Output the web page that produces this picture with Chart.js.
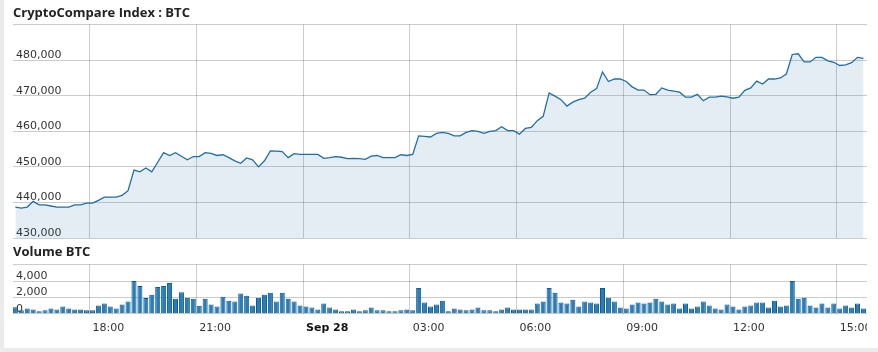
<!DOCTYPE html>
<html>
<head>
<meta charset="utf-8">
<script src="https://cdn.jsdelivr.net/npm/chart.js@4.4.0/dist/chart.umd.min.js"></script>
<style>
  html, body { margin: 0; padding: 0; background: #ebebeb; }
  #wrap { position: absolute; left: 4px; top: 0; width: 874px; height: 348px; background: #fff; }
  canvas { position: absolute; left: 0; }
  #price { top: 0; }
  #volume { top: 240px; }
</style>
</head>
<body>
<div id="wrap"></div>
<canvas id="price" width="867" height="242"></canvas>
<canvas id="volume" width="867" height="108"></canvas>
<script>
// BTC index, one sample every 10 minutes from Sep 27 15:55
const price = [
  438700, 438400, 438700, 440300, 439300, 439300, 439000, 438700, 438700, 438700,
  439300, 439300, 439800, 439800, 440600, 441500, 441500, 441500, 442000, 443300,
  449100, 448600, 449700, 448600, 451300, 454000, 453200, 454000, 453000, 452000,
  452900, 452900, 454000, 453800, 453200, 453400, 452600, 451700, 451000, 452500,
  452000, 450000, 451700, 454500, 454400, 454300, 452600, 453700, 453500, 453500,
  453500, 453500, 452400, 452600, 452900, 452700, 452300, 452400, 452300, 452100,
  453000, 453200, 452600, 452600, 452600, 453400, 453200, 453500, 458700, 458600,
  458400, 459400, 459700, 459400, 458700, 458700, 459700, 460200, 460000, 459400,
  460000, 460200, 461300, 460200, 460200, 459200, 460800, 461100, 463000, 464200,
  470800, 469900, 468900, 467100, 468200, 468900, 469300, 471000, 472000, 476700,
  474000, 474700, 474700, 474000, 472500, 471600, 471600, 470300, 470400, 472200,
  471600, 471300, 471000, 469600, 469600, 470400, 468600, 469600, 469600, 469900,
  469700, 469300, 469600, 471500, 472200, 474100, 473300, 474700, 474700, 475000,
  476100, 481600, 481800, 479500, 479500, 480800, 480800, 479800, 479400, 478500,
  478700, 479300, 480800, 480500
];

const volume = [
  800, 420, 650, 530, 300, 420, 650, 530, 890, 650,
  530, 530, 420, 420, 1010, 1250, 890, 650, 1130, 1490,
  3990, 3390, 1930, 2320, 3270, 3390, 3750, 1840, 2640, 1960,
  1840, 970, 1840, 1130, 890, 2080, 1600, 1490, 2480, 2200,
  1010, 1960, 2320, 2560, 1490, 2560, 1840, 1490, 1010, 890,
  770, 530, 1250, 770, 530, 300, 300, 530, 300, 420,
  770, 420, 420, 300, 300, 420, 530, 420, 3150, 1370,
  890, 1130, 1600, 300, 650, 530, 420, 530, 770, 420,
  420, 300, 530, 770, 530, 530, 530, 530, 1250, 1490,
  3150, 2560, 1370, 1250, 1720, 890, 1490, 1370, 1250, 3150,
  1960, 1490, 770, 650, 1130, 1370, 1250, 1370, 1840, 1490,
  1130, 1250, 650, 1250, 650, 890, 1490, 1010, 650, 530,
  1130, 890, 530, 890, 1010, 1370, 1370, 770, 1600, 890,
  1010, 3990, 1840, 1960, 1010, 770, 1250, 770, 1250, 650,
  1010, 770, 1250, 650
];

// hours since Sep 27 00:00
const tickHours = [18, 21, 24, 27, 30, 33, 36, 39];
const tickLabels = ['18:00', '21:00', 'Sep 28', '03:00', '06:00', '09:00', '12:00', '15:00'];

const startHour = 15 + 55 / 60;
const times = price.map((_, i) => startHour + i / 6);

const gridColor = 'rgba(0,0,0,0.2)';
const tickFont = { family: 'DejaVu Sans', size: 11 };
const titleFont = { family: 'Open Sans', size: 13, weight: 'bold' };

function noPad(scale) {
  scale.paddingLeft = 0;
  scale.paddingRight = 0;
  scale.paddingTop = 0;
  scale.paddingBottom = 0;
}

function flatY(scale) {
  noPad(scale);
  scale.width = 0;
}

function hourTicks(scale) {
  scale.ticks = tickHours.map(v => ({ value: v }));
}

function xScale(ticks) {
  return {
    type: 'linear',
    min: 15.85,
    max: 39.85,
    offset: false,
    afterBuildTicks: hourTicks,
    afterFit: noPad,
    grid: { color: gridColor, drawTicks: false, offset: false },
    border: { display: false },
    ticks
  };
}

new Chart(document.getElementById('price'), {
  type: 'line',
  data: {
    datasets: [{
      data: times.map((t, i) => ({ x: t, y: price[i] })),
      borderColor: '#1f6fa8',
      borderWidth: 1.3,
      backgroundColor: 'rgba(31,111,168,0.12)',
      fill: 'start',
      pointRadius: 0,
      tension: 0
    }]
  },
  options: {
    responsive: false,
    animation: false,
    layout: { padding: { left: 13, right: 0, top: 0, bottom: 4 } },
    plugins: {
      legend: { display: false },
      tooltip: { enabled: false },
      title: {
        display: true,
        text: 'CryptoCompare Index : BTC',
        align: 'start',
        color: '#222',
        font: titleFont,
        padding: { top: 5, bottom: 4 }
      }
    },
    scales: {
      x: xScale({ display: false }),
      y: {
        min: 430000,
        max: 490000,
        afterFit: flatY,
        ticks: {
          stepSize: 10000,
          autoSkip: false,
          mirror: true,
          padding: 3,
          labelOffset: -5,
          color: '#333',
          font: tickFont,
          callback: v => v === 490000 ? '' : v.toLocaleString('en-US')
        },
        grid: { color: gridColor, drawTicks: false },
        border: { display: false }
      }
    }
  }
});

new Chart(document.getElementById('volume'), {
  type: 'bar',
  data: {
    datasets: [{
      data: times.map((t, i) => ({ x: t, y: volume[i] })),
      backgroundColor: '#2b7db6',
      borderColor: '#0c5a93',
      borderWidth: 1,
      barPercentage: 0.85,
      categoryPercentage: 1,
      yAxisID: 'y'
    }]
  },
  options: {
    responsive: false,
    animation: false,
    layout: { padding: { left: 13, right: 0, top: 0, bottom: 5 } },
    plugins: {
      legend: { display: false },
      tooltip: { enabled: false },
      title: {
        display: true,
        text: 'Volume BTC',
        align: 'start',
        color: '#222',
        font: titleFont,
        padding: { top: 4, bottom: 5 }
      }
    },
    scales: {
      x: xScale({
        align: 'start',
        labelOffset: 3,
        padding: 8,
        autoSkip: false,
        maxRotation: 0,
        color: ctx => ctx.tick && ctx.tick.value === 24 ? '#111' : '#333',
        font: ctx => ({ ...tickFont, weight: ctx.tick && ctx.tick.value === 24 ? 'bold' : 'normal' }),
        callback: (v, i) => tickLabels[i]
      }),
      y: {
        min: 0,
        max: 6000,
        afterFit: flatY,
        ticks: { stepSize: 2000, display: false },
        grid: { color: gridColor, drawTicks: false },
        border: { display: false }
      },
      yLabels: {
        position: 'left',
        min: 0,
        max: 6000,
        z: 1,
        afterFit: flatY,
        ticks: {
          stepSize: 2000,
          autoSkip: false,
          mirror: true,
          padding: 3,
          labelOffset: -5,
          color: '#333',
          font: tickFont,
          callback: v => v === 6000 ? '' : v.toLocaleString('en-US')
        },
        grid: { display: false },
        border: { display: false }
      }
    }
  }
});
</script>
</body>
</html>
